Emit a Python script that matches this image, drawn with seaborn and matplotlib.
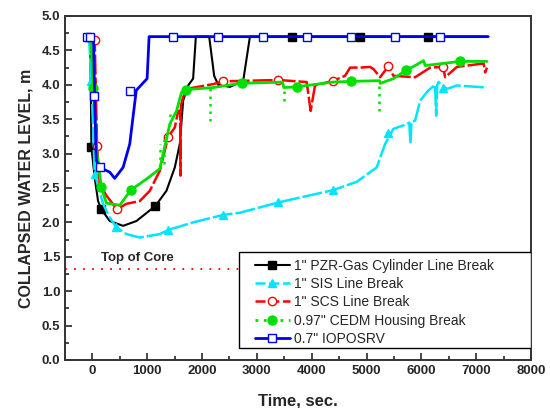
import numpy as np
import pandas as pd
import matplotlib
matplotlib.use("Agg")
import matplotlib.pyplot as plt
from matplotlib.lines import Line2D
from matplotlib.patches import Rectangle
from matplotlib.ticker import MultipleLocator, FormatStrFormatter
import seaborn as sns

# ---------------- data ----------------
pzr_t = [-100, -40, -18, 42, 103, 164, 316, 560, 803, 1150, 1351, 1503, 1594, 1655, 1746, 1837, 1887,
         2130, 2221, 2295, 2508, 2751, 2873, 7200]
pzr_y = [4.70, 4.70, 3.09, 2.65, 2.31, 2.19, 2.02, 1.95, 2.02, 2.24, 2.46, 2.80, 3.14, 3.77, 3.99, 4.09, 4.70,
         4.70, 4.13, 4.00, 3.97, 4.06, 4.70, 4.70]
pzr_mt = [-18, 164, 1150, 3634, 4882, 6130]
pzr_my = [3.09, 2.19, 2.24, 4.70, 4.70, 4.70]

sis_t = [-100, -62, -18, 42, 194, 316, 438, 621, 864, 1229, 1381, 1837, 2386, 2690, 3390, 4395, 4822,
         5187, 5248, 5339, 5491, 5674, 5780, 5800, 5820, 5887, 5978, 6130, 6250, 6270, 6290, 6313, 6465,
         6648, 7196]
sis_y = [4.70, 4.69, 4.06, 2.71, 2.27, 2.07, 1.93, 1.83, 1.78, 1.83, 1.89, 2.00, 2.11, 2.14, 2.29, 2.47, 2.59,
         2.80, 2.94, 3.14, 3.36, 3.41, 3.45, 3.15, 3.46, 3.48, 3.77, 3.92, 4.00, 3.55, 4.00, 4.04, 3.94,
         3.99, 3.96]
sis_mt = [-62, -18, 42, 438, 1381, 2386, 3390, 4395, 5400, 6400]
sis_my = [4.69, 4.06, 2.71, 1.93, 1.89, 2.11, 2.29, 2.47, 3.30, 3.95]

scs_t = [-100, 42, 85, 133, 255, 449, 621, 864, 1047, 1229, 1381, 1503, 1564, 1600, 1607, 1615, 1655,
         1716, 2203, 2386, 3390, 3908, 3981, 4060, 4395, 4608, 4700, 4882, 5065, 5126, 5248, 5400, 5491,
         5887, 6161, 6394, 6435, 6648, 7135, 7165, 7196]
scs_y = [4.70, 4.65, 3.11, 2.56, 2.39, 2.19, 2.27, 2.31, 2.46, 2.75, 3.24, 3.38, 3.62, 3.62, 2.68, 3.70, 3.82,
         3.94, 4.01, 4.05, 4.07, 4.04, 3.62, 3.99, 4.06, 4.13, 4.25, 4.25, 4.26, 4.23, 4.11, 4.27, 4.13,
         4.11, 4.25, 4.26, 4.11, 4.26, 4.31, 4.18, 4.25]
scs_mt = [42, 85, 449, 1381, 2386, 3390, 4395, 5400, 6394]
scs_my = [4.65, 3.11, 2.19, 3.24, 4.05, 4.07, 4.06, 4.27, 4.26]

cedm_t = [-100, -30, 12, 90, 164, 255, 499, 700, 986, 1229, 1412, 1534, 1625, 1704, 2203, 2690, 3470,
          3490, 3725, 4395, 4718, 5235, 5250, 5491, 5722, 5887, 6039, 6070, 6283, 6709, 7196]
cedm_y = [4.70, 4.70, 3.95, 2.95, 2.51, 2.28, 2.25, 2.47, 2.63, 2.78, 3.43, 3.62, 3.89, 3.93, 3.96, 4.02, 4.04,
          3.96, 3.97, 4.04, 4.05, 4.06, 4.02, 4.09, 4.21, 4.28, 4.35, 4.28, 4.30, 4.34, 4.34]
cedm_spike_t = [1240, 1300, 1420, 2142, 3490, 5235]
cedm_spike_lo = [2.80, 2.85, 3.43, 3.48, 3.77, 3.62]
cedm_spike_hi = [3.14, 3.25, 3.58, 3.95, 3.97, 4.06]
cedm_mt = [12, 164, 700, 1704, 2721, 3725, 4718, 5722, 6709]
cedm_my = [3.95, 2.51, 2.47, 3.93, 4.02, 3.97, 4.05, 4.21, 4.34]

iop_t = [-100, -30, 20, 40, 70, 133, 316, 407, 560, 681, 800, 998, 1034, 7220]
iop_y = [4.70, 4.70, 4.70, 3.84, 2.90, 2.80, 2.73, 2.64, 2.80, 3.14, 3.92, 4.09, 4.70, 4.70]
iop_mt = [-100, -40, 30, 133, 681, 1479, 2295, 3111, 3908, 4724, 5528, 6344]
iop_my = [4.70, 4.70, 3.84, 2.80, 3.91, 4.70, 4.70, 4.70, 4.70, 4.70, 4.70, 4.70]

labels = ['1" PZR-Gas Cylinder Line Break', '1" SIS Line Break', '1" SCS Line Break',
          '0.97" CEDM Housing Break', '0.7" IOPOSRV']
top_of_core = 1.32

# ---------------- plotting ----------------
sns.set_style("ticks")
plt.rcParams['font.family'] = ['Liberation Sans', 'DejaVu Sans']

fig = plt.figure(figsize=(5.5, 4.08), dpi=100)
ax = fig.add_axes([65 / 550, 1 - 360 / 408, (531 - 65) / 550, (360 - 16) / 408])

green = '#00e000'
styles = [
    dict(color='black', ls='-', leg_ls='-', marker='s', mfc='black', mec='black', lw=1.5, ms=5.5),
    dict(color='#00e5ff', ls=(0, (8, 1.2)), leg_ls=(0, (4, 1.5)), marker='^', mfc='#00e5ff', mec='#00e5ff', lw=1.8, ms=6),
    dict(color='#ff0000', ls=(0, (8, 1.2)), leg_ls=(0, (4, 1.5)), marker='o', mfc='white', mec='#ff0000', lw=1.8, ms=6),
    dict(color=green, ls='-', leg_ls=(0, (1, 2)), marker='o', mfc=green, mec=green, lw=2.0, ms=6.5),
    dict(color='#0000ee', ls='-', leg_ls='-', marker='s', mfc='white', mec='#0000ee', lw=2.0, ms=6),
]
series = [(pzr_t, pzr_y, pzr_mt, pzr_my), (sis_t, sis_y, sis_mt, sis_my),
          (scs_t, scs_y, scs_mt, scs_my), (cedm_t, cedm_y, cedm_mt, cedm_my),
          (iop_t, iop_y, iop_mt, iop_my)]

handles = []
for i, ((t, y, mt, my), st, lab) in enumerate(zip(series, styles, labels)):
    df = pd.DataFrame({'t': t, 'y': y})
    sns.lineplot(data=df, x='t', y='y', ax=ax, sort=False, estimator=None,
                 color=st['color'], linewidth=st['lw'], linestyle=st['ls'], legend=False)
    if i == 3:
        ax.vlines(cedm_spike_t, cedm_spike_lo, cedm_spike_hi, colors=green,
                  linestyles=(0, (1, 2)), linewidth=1.8)
    ax.plot(mt, my, linestyle='none', marker=st['marker'], ms=st['ms'],
            mfc=st['mfc'], mec=st['mec'], mew=1.0)
    handles.append(Line2D([], [], color=st['color'], lw=st['lw'], ls=st['leg_ls'], marker=st['marker'],
                          ms=st['ms'], mfc=st['mfc'], mec=st['mec'], mew=1.0))

ax.axhline(top_of_core, color='red', ls=(0, (1, 4)), lw=1.3)
ax.text(160, 1.48, 'Top of Core', fontsize=9.5, fontweight='bold', va='center', ha='left')

ax.set_xlim(-500, 8000)
ax.set_ylim(0, 5.0)
ax.xaxis.set_major_locator(MultipleLocator(1000))
ax.xaxis.set_minor_locator(MultipleLocator(500))
ax.yaxis.set_major_locator(MultipleLocator(0.5))
ax.yaxis.set_minor_locator(MultipleLocator(0.25))
ax.yaxis.set_major_formatter(FormatStrFormatter('%.1f'))
ax.tick_params(which='both', direction='in', top=False, right=False, width=1.2)
ax.tick_params(which='major', length=5, labelsize=9.5)
ax.tick_params(which='minor', length=3)
for lbl in ax.get_xticklabels() + ax.get_yticklabels():
    lbl.set_fontweight('bold')

for sp in ax.spines.values():
    sp.set_linewidth(1.4)
    sp.set_color('#333333')

ax.set_xlabel('Time, sec.', fontsize=12, fontweight='bold', labelpad=12)
ax.set_ylabel('COLLAPSED WATER LEVEL, m', fontsize=11.5, fontweight='bold', labelpad=6)

# legend frame drawn as a rectangle, legend entries inside without own frame
ax.add_patch(Rectangle(((239 - 65) / 466, (360 - 348) / 344), (531 - 239) / 466, (348 - 252) / 344,
                       transform=ax.transAxes, facecolor='white', edgecolor='black', lw=1.0, zorder=4))
leg = ax.legend(handles, labels, loc='upper left', bbox_to_anchor=((255 - 65) / 466, (360 - 259) / 344),
                borderaxespad=0, borderpad=0, fontsize=10, frameon=False, handlelength=2.5,
                handletextpad=0.3, labelspacing=0.3)
leg.set_zorder(5)

fig.savefig('out.png', dpi=100)
